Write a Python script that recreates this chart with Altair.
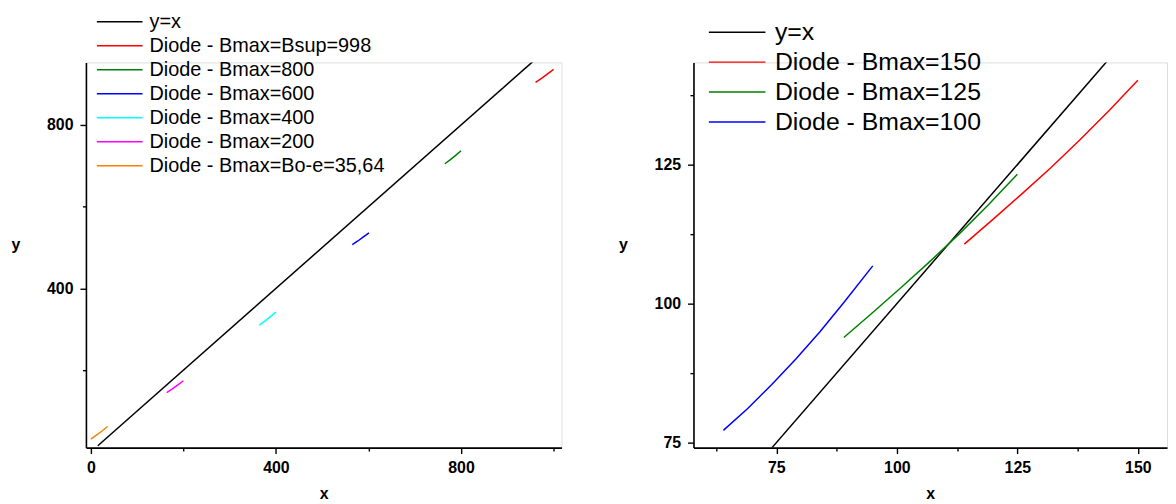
import altair as alt
import pandas as pd

# ---------------- Left panel data ----------------
L_names = ["y=x", "Diode - Bmax=Bsup=998", "Diode - Bmax=800", "Diode - Bmax=600",
           "Diode - Bmax=400", "Diode - Bmax=200", "Diode - Bmax=Bo-e=35,64"]
L_colors = ["#000000", "#FF0000", "#008000", "#0000FF", "#00FFFF", "#FF00FF", "#FF8000"]
L_x = [
    [15, 955],
    [961, 974, 987, 1000],
    [765, 777, 789, 800],
    [565, 577, 589, 601],
    [364, 376, 388, 400],
    [164, 176, 188, 200],
    [0, 12, 24, 36],
]
L_y = [
    [15, 955],
    [904, 914, 925, 936],
    [705, 715, 726, 737],
    [507, 516, 526, 536],
    [310, 320, 331, 342],
    [145, 154, 164, 174],
    [31, 41, 51, 62],
]
L_xticks = [0, 200, 400, 600, 800, 1000]
L_yticks = [200, 400, 600, 800]

# ---------------- Right panel data ----------------
R_names = ["y=x", "Diode - Bmax=150", "Diode - Bmax=125", "Diode - Bmax=100"]
R_colors = ["#000000", "#FF0000", "#008000", "#0000FF"]
R_x = [
    [74, 144],
    [114, 120, 126, 132, 138, 144, 150],
    [89, 95, 101, 107, 113, 119, 125],
    [64, 69, 74, 79, 84, 89, 95],
]
R_y = [
    [74, 144],
    [110.7, 115.2, 119.8, 124.5, 129.5, 134.7, 140.2],
    [93.9, 98.4, 103.0, 107.7, 112.6, 117.8, 123.3],
    [77.2, 81.1, 85.4, 90.0, 94.9, 100.2, 106.8],
]
R_xticks = [62.5, 75, 87.5, 100, 112.5, 125, 137.5, 150]
R_yticks = [75, 87.5, 100, 112.5, 125, 137.5]


def frame(names, xs, ys):
    rows = []
    for n, xv, yv in zip(names, xs, ys):
        for i, (a, b) in enumerate(zip(xv, yv)):
            rows.append({"series": n, "x": a, "y": b, "i": i})
    return pd.DataFrame(rows)


FONT = "Liberation Sans"


def mk_axis(values, every, title, is_y):
    kw = dict(
        values=values,
        labelExpr=f"datum.value % {every} === 0 ? format(datum.value, 'd') : ''",
        title=title,
        grid=False,
        domainColor="black",
        domainWidth=1.6,
        tickColor="black",
        tickWidth=1.4,
        tickSize={"condition": {"test": f"datum.value % {every} === 0", "value": 6}, "value": 3.5},
        labelFont=FONT,
        labelFontSize=16,
        labelFontWeight="bold",
        labelColor="black",
        titleFont=FONT,
        titleFontSize=16,
        titleFontWeight="bold",
        titleColor="black",
    )
    if is_y:
        kw.update(labelPadding=7, titleAngle=0, titleX=-71, titleY=183,
                  titleAlign="center", titleBaseline="middle")
    else:
        kw.update(labelPadding=6, titleY=46, titleBaseline="middle")
    return alt.Axis(**kw)


def panel(df, names, colors, xdom, ydom, xticks, xevery, yticks, yevery, width,
          leg_path, leg_font, leg_x, leg_y, leg_off, leg_pad):
    return alt.Chart(df).mark_line(strokeWidth=1.5, clip=True).encode(
        x=alt.X("x:Q", scale=alt.Scale(domain=xdom, nice=False, zero=False),
                axis=mk_axis(xticks, xevery, "x", False)),
        y=alt.Y("y:Q", scale=alt.Scale(domain=ydom, nice=False, zero=False),
                axis=mk_axis(yticks, yevery, "y", True)),
        color=alt.Color("series:N", sort=names,
                        scale=alt.Scale(domain=names, range=colors),
                        legend=alt.Legend(
                            title=None, orient="none", legendX=leg_x, legendY=leg_y,
                            symbolType=leg_path, symbolSize=400, symbolStrokeWidth=1.5,
                            labelFont=FONT, labelFontSize=leg_font, labelColor="black",
                            labelOffset=leg_off, rowPadding=leg_pad, padding=0,
                            labelLimit=600)),
        order="i:Q",
    ).properties(width=width, height=388)


left = panel(frame(L_names, L_x, L_y), L_names, L_colors,
             [-10.7, 1017], [10.4, 953], L_xticks, 400, L_yticks, 400, 479,
             "M-2.3,0H2.3", 20, 23, -52, 19, 3.2)
right = panel(frame(R_names, R_x, R_y), R_names, R_colors,
              [57.8, 156.05], [74.1, 143.4], R_xticks, 25, R_yticks, 25, 477,
              "M-2.85,0H2.85", 25, 31.5, -43, 25.5, 4.2)

chart = alt.hconcat(left, right, spacing=133, bounds="flush").resolve_scale(
    color="independent", x="independent", y="independent"
).resolve_legend(color="independent").properties(
    padding={"left": 2.5, "top": 0, "right": 0, "bottom": 0}
).configure_view(stroke=None).configure(font=FONT)

chart.save("out.html", embed_options={"renderer": "svg", "actions": False})
